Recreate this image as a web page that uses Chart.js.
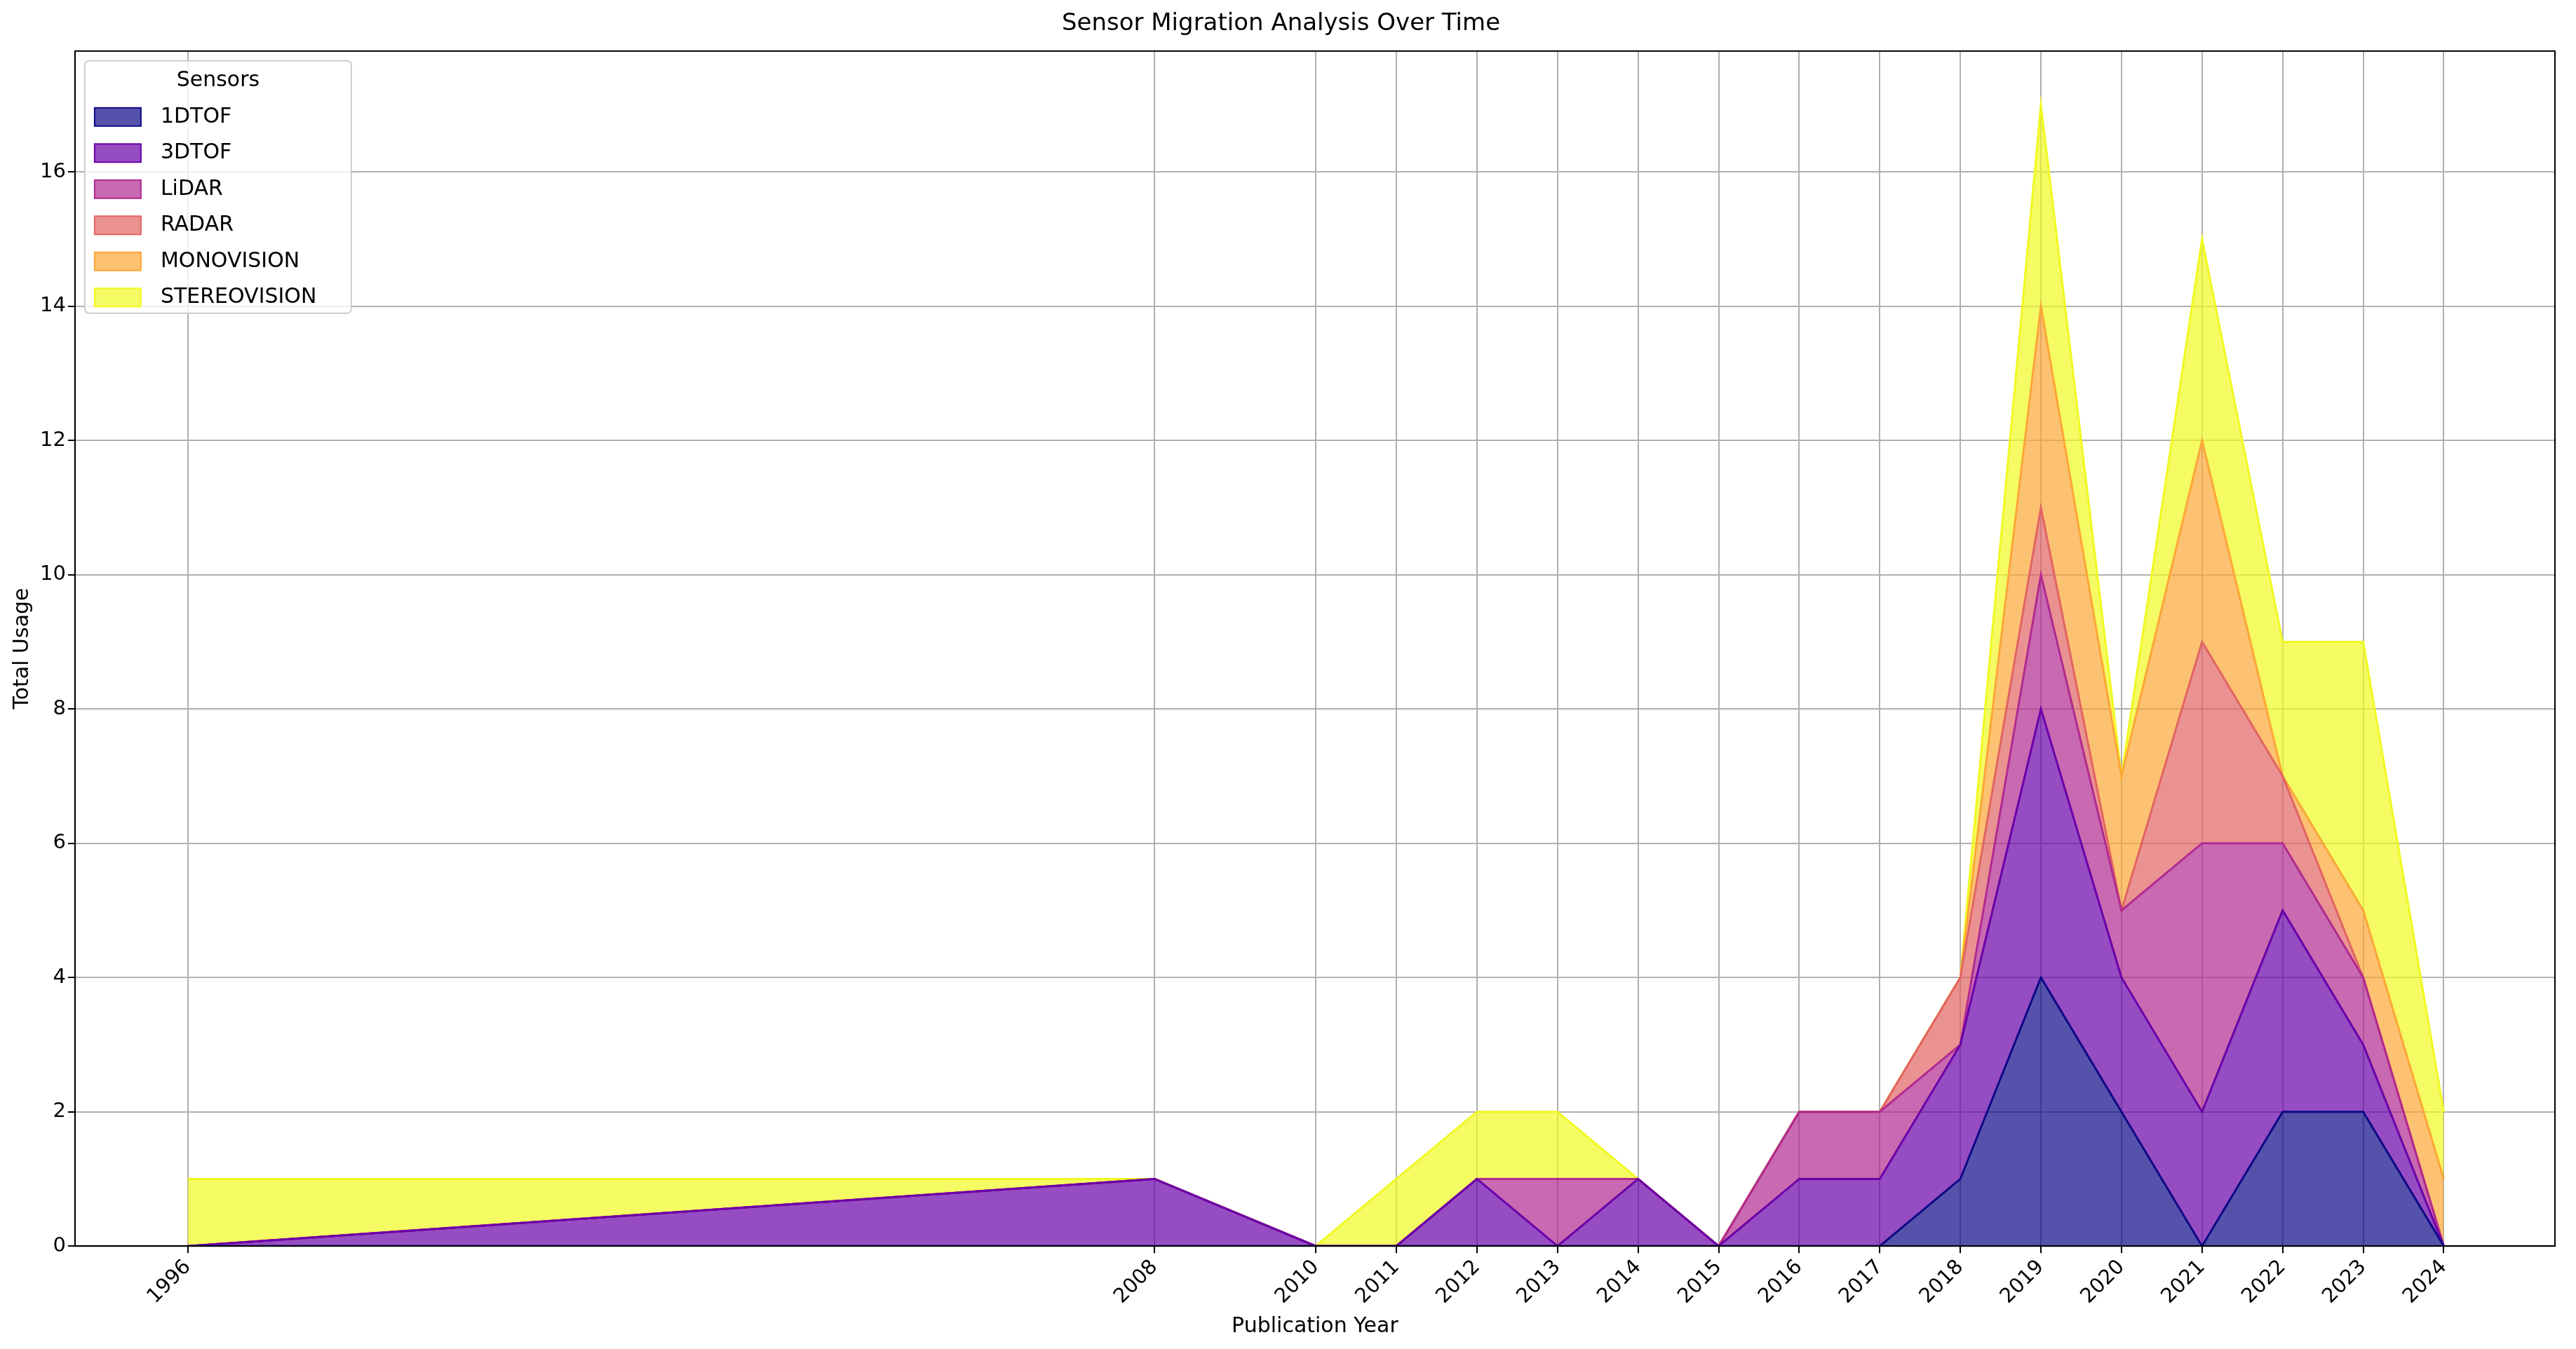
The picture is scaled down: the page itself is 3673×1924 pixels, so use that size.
<!DOCTYPE html>
<html><head><meta charset="utf-8">
<script src="https://cdn.jsdelivr.net/npm/chart.js@4"></script>
<style>html,body{margin:0;background:#fff}#w{width:3673px;height:1924px}</style>
</head><body><div id="w"><canvas id="c"></canvas></div>
<script>
const years=[1996,2008,2010,2011,2012,2013,2014,2015,2016,2017,2018,2019,2020,2021,2022,2023,2024];
const sensors=['1DTOF','3DTOF','LiDAR','RADAR','MONOVISION','STEREOVISION'];
const v1DTOF=[0,0,0,0,0,0,0,0,0,0,1,4,2,0,2,2,0];
const v3DTOF=[0,1,0,0,1,0,1,0,1,1,2,4,2,2,3,1,0];
const vLiDAR=[0,0,0,0,0,1,0,0,1,1,0,2,1,4,1,1,0];
const vRADAR=[0,0,0,0,0,0,0,0,0,0,1,1,0,3,1,0,0];
const vMONO=[0,0,0,0,0,0,0,0,0,0,0,3,2,3,0,1,1];
const vSTEREO=[1,0,0,1,1,1,0,0,0,0,0,3,0,3,2,4,1];
const series=[v1DTOF,v3DTOF,vLiDAR,vRADAR,vMONO,vSTEREO];
const fills=['rgba(13,8,135,0.7)','rgba(106,0,168,0.7)','rgba(177,42,144,0.7)','rgba(225,100,98,0.7)','rgba(252,166,54,0.7)','rgba(240,249,33,0.7)'];
const lines=['#0d0887','#6a00a8','#b12a90','#e16462','#fca636','#f0f921'];
const F='"DejaVu Sans", sans-serif';
const legendPlugin={id:'lg',afterDraw(ch){
 const c=ch.ctx,a=ch.chartArea;const x=a.left+14,y=a.top+14,w=380,h=360;
 c.save();c.fillStyle='rgba(255,255,255,0.8)';c.strokeStyle='#ccc';c.lineWidth=2;
 c.beginPath();c.roundRect(x,y,w,h,6);c.fill();c.stroke();
 c.fillStyle='#000';c.font='30px '+F;c.textAlign='center';c.textBaseline='middle';
 c.fillText('Sensors',x+w/2,y+28);c.textAlign='left';
 ch.data.datasets.forEach((d,i)=>{const yy=y+80+i*51.5;
  c.fillStyle=d.backgroundColor;c.strokeStyle=d.borderColor;c.fillRect(x+14,yy-13,66,26);c.strokeRect(x+14,yy-13,66,26);
  c.fillStyle='#000';c.fillText(d.label,x+108,yy);});
 c.restore();}};
new Chart(document.getElementById('c'),{type:'line',
 data:{datasets:sensors.map((s,i)=>({label:s,data:years.map((yr,j)=>({x:yr,y:series[i][j]})),
  backgroundColor:fills[i],borderColor:lines[i],borderWidth:3,pointRadius:0,fill:i===0?'origin':'-1',tension:0}))},
 options:{animation:false,responsive:true,maintainAspectRatio:false,
  layout:{padding:{left:10,right:30,top:10,bottom:10}},
  plugins:{legend:{display:false},tooltip:{enabled:false},
   title:{display:true,text:'Sensor Migration Analysis Over Time',font:{family:F,size:34,weight:'normal'},color:'#000',padding:{top:4,bottom:18}}},
  scales:{
   x:{type:'linear',min:1994.6,max:2025.38,
    afterBuildTicks(ax){ax.ticks=years.map(v=>({value:v}));},
    ticks:{callback:v=>String(v),font:{family:F,size:29},color:'#000',maxRotation:45,minRotation:45,autoSkip:false},
    grid:{color:'#b0b0b0',lineWidth:2,tickLength:10,tickColor:'#000'},border:{color:'#000',width:2},
    title:{display:true,text:'Publication Year',font:{family:F,size:30},color:'#000'}},
   y:{stacked:true,min:0,max:17.8,
    afterBuildTicks(ax){ax.ticks=[0,2,4,6,8,10,12,14,16].map(v=>({value:v}));},
    ticks:{font:{family:F,size:29},color:'#000'},
    grid:{color:'#b0b0b0',lineWidth:2,tickLength:10,tickColor:'#000'},border:{color:'#000',width:2},
    title:{display:true,text:'Total Usage',font:{family:F,size:30},color:'#000'}}}},
 plugins:[legendPlugin,{id:'frame',afterDraw(ch){const c=ch.ctx,a=ch.chartArea;c.save();c.strokeStyle='#000';c.lineWidth=2;c.strokeRect(a.left,a.top,a.right-a.left,a.bottom-a.top);c.restore();}}]
});
</script></body></html>
